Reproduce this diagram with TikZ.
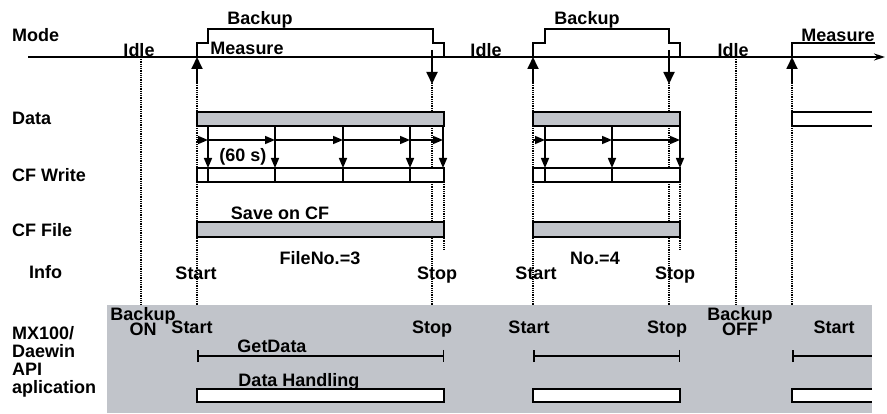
\documentclass[tikz,border=0pt]{standalone}
\usepackage{fontspec}
\setmainfont{Liberation Sans}
\usetikzlibrary{arrows.meta}
\definecolor{panelgray}{RGB}{193,196,202}
\lineskiplimit=-20pt

\tikzset{
    lbl/.style={font=\fontsize{18}{18}\selectfont\bfseries, inner sep=0pt, text height=12.9pt, text depth=0pt},
    lbltwo/.style={font=\fontsize{18}{15}\selectfont\bfseries, inner sep=0pt, align=center},
    guide/.style={dash pattern=on 0.9pt off 0.9pt, line width=1.3pt},
    bar/.style={line width=1.5pt},
    tick/.style={->, line width=1.5pt},
    modearrow/.style={-{Triangle[length=12pt,width=11pt]}, line width=1.8pt},
}

\begin{document}
\begin{tikzpicture}[x=1pt, y=-1pt, >={Triangle[length=10pt,width=8pt]}]
    \useasboundingbox (0,0) rectangle (887,414);

    \fill[panelgray] (107,305) rectangle (872,413);

    % guides
    \draw[guide] (141,57) -- (141,305);
    \draw[guide] (197,83) -- (197,305);
    \draw[guide] (432,83) -- (432,305);
    \draw[guide] (444,182) -- (444,250);
    \draw[guide] (533,83) -- (533,305);
    \draw[guide] (669,83) -- (669,305);
    \draw[guide] (680,182) -- (680,250);
    \draw[guide] (736,57) -- (736,305);
    \draw[guide] (792,83) -- (792,305);

    % mode line
    \draw[-{Stealth[length=11pt,width=7pt]}, line width=1.6pt] (28,57) -- (885,57);
    \draw[line width=1.4pt] (197,57) -- (197,43) -- (208,43) -- (208,29) -- (433,29) -- (433,43) -- (444,43) -- (444,57);
    \draw[line width=1.4pt] (533,57) -- (533,43) -- (545,43) -- (545,29) -- (669,29) -- (669,43) -- (680,43) -- (680,57);
    \draw[line width=1.4pt] (792,57) -- (792,43) -- (875,43);

    \draw[modearrow] (197,83) -- (197,57);
    \draw[modearrow] (432,50) -- (432,84);
    \draw[modearrow] (533,83) -- (533,57);
    \draw[modearrow] (669,50) -- (669,84);
    \draw[modearrow] (792,83) -- (792,57);

    % data
    \draw[bar, fill=panelgray] (197,112) rectangle (444,126);
    \draw[bar, fill=panelgray] (533,112) rectangle (680,126);
    \draw[bar] (872,112) -- (792,112) -- (792,126) -- (872,126);

    \draw[tick] (197,140) -- (208,140);
    \draw[tick] (208,140) -- (275,140);
    \draw[tick] (275,140) -- (343,140);
    \draw[tick] (343,140) -- (410,140);
    \draw[tick] (410,140) -- (443,140);
    \draw[tick] (533,140) -- (545,140);
    \draw[tick] (545,140) -- (612,140);
    \draw[tick] (612,140) -- (680,140);

    \draw[tick] (208,126) -- (208,168);
    \draw[tick] (275,126) -- (275,168);
    \draw[tick] (343,126) -- (343,168);
    \draw[tick] (410,126) -- (410,168);
    \draw[tick] (443,126) -- (443,168);
    \draw[tick] (545,126) -- (545,168);
    \draw[tick] (612,126) -- (612,168);
    \draw[tick] (680,126) -- (680,168);

    % CF write
    \draw[bar, fill=white] (197,168) rectangle (444,182);
    \draw[bar] (208,168) -- (208,182) (275,168) -- (275,182) (343,168) -- (343,182) (410,168) -- (410,182);
    \draw[bar, fill=white] (533,168) rectangle (680,182);
    \draw[bar] (545,168) -- (545,182) (612,168) -- (612,182);

    % CF file
    \draw[bar, fill=panelgray] (197,222) rectangle (444,237);
    \draw[bar, fill=panelgray] (533,222) rectangle (680,237);

    % application
    \draw[bar, {Bar[width=12pt]}-{Bar[width=12pt]}] (197,356) -- (444,356);
    \draw[bar, {Bar[width=12pt]}-{Bar[width=12pt]}] (533,356) -- (680,356);
    \draw[bar, {Bar[width=12pt]}-] (792,356) -- (872,356);

    \draw[bar, fill=white] (197,389) rectangle (444,402);
    \draw[bar, fill=white] (533,389) rectangle (680,402);
    \fill[white] (792,389) rectangle (872,402);
    \draw[bar] (872,389) -- (792,389) -- (792,402) -- (872,402);

    % labels
    \node[lbl, anchor=west] (modeLbl) at (12,35) {Mode};
    \node[lbl, anchor=west] (dataLbl) at (12,118) {Data};
    \node[lbl, anchor=west] (writeLbl) at (12,175) {CF Write};
    \node[lbl, anchor=west] (fileLbl) at (12,230) {CF File};
    \node[lbl, anchor=west] (infoLbl) at (29,272) {Info};
    \node[lbltwo, align=left, font=\fontsize{18}{18}\selectfont\bfseries, anchor=north west] (appLbl) at (12,326.5) {MX100/\\Daewin\\API\\aplication};

    \node[lbl] (backupA) at (260,18) {Backup};
    \node[lbl] (backupB) at (587,18) {Backup};
    \node[lbl] (measureA) at (247,48) {Measure};
    \node[lbl] (measureB) at (838,35) {Measure};
    \node[lbl] (idleA) at (139,50) {Idle};
    \node[lbl] (idleB) at (486,50) {Idle};
    \node[lbl] (idleC) at (733,50) {Idle};

    \node[lbl] (periodLbl) at (243,155) {(60 s)};
    \node[lbl] (saveLbl) at (280,213) {Save on CF};
    \node[lbl] (fileA) at (320,258) {FileNo.=3};
    \node[lbl] (fileB) at (595,258) {No.=4};
    \node[lbl] (infoStartA) at (196,273) {Start};
    \node[lbl] (infoStopA) at (437,273) {Stop};
    \node[lbl] (infoStartB) at (536,273) {Start};
    \node[lbl] (infoStopB) at (675,273) {Stop};

    \node[lbltwo, anchor=north] (backupOn) at (143,307) {Backup\\ON};
    \node[lbltwo, anchor=north] (backupOff) at (740,307) {Backup\\OFF};
    \node[lbl] (appStartA) at (192,327) {Start};
    \node[lbl] (appStopA) at (432,327) {Stop};
    \node[lbl] (appStartB) at (529,327) {Start};
    \node[lbl] (appStopB) at (667,327) {Stop};
    \node[lbl] (appStartC) at (834,327) {Start};
    \node[lbl] (getLbl) at (272,346) {GetData};
    \node[lbl] (handleLbl) at (299,380) {Data Handling};
\end{tikzpicture}
\end{document}
